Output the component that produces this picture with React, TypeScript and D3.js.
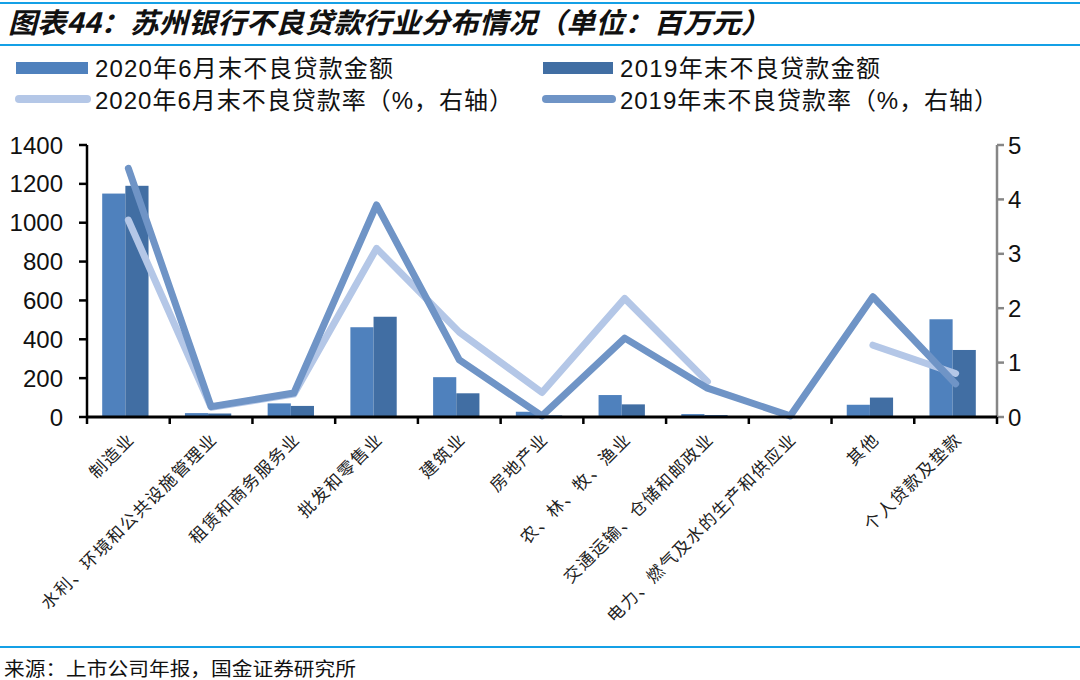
import React from "react";
import * as d3 from "d3";

const categories = [
  "制造业",
  "水利、环境和公共设施管理业",
  "租赁和商务服务业",
  "批发和零售业",
  "建筑业",
  "房地产业",
  "农、林、牧、渔业",
  "交通运输、仓储和邮政业",
  "电力、燃气及水的生产和供应业",
  "其他",
  "个人贷款及垫款",
];
const amount2020 = [1150, 20, 70, 462, 205, 27, 113, 15, 0, 63, 503];
const amount2019 = [1190, 18, 57, 516, 122, 8, 65, 10, 0, 100, 345];
const rate2020: (number | null)[] = [3.62, 0.18, 0.42, 3.1, 1.56, 0.45, 2.18, 0.65, null, 1.32, 0.8];
const rate2019: (number | null)[] = [4.57, 0.19, 0.44, 3.9, 1.05, 0.02, 1.45, 0.53, 0.02, 2.21, 0.61];
const leftTicks = [0, 200, 400, 600, 800, 1000, 1200, 1400];
const rightTicks = [0, 1, 2, 3, 4, 5];
const legendLabels = [
  "2020年6月末不良贷款金额",
  "2019年末不良贷款金额",
  "2020年6月末不良贷款率（%，右轴）",
  "2019年末不良贷款率（%，右轴）",
];
const titleText = "图表44：苏州银行不良贷款行业分布情况（单位：百万元）";
const sourceText = "来源：上市公司年报，国金证券研究所";

const C_BAR20 = "#4f81bd";
const C_BAR19 = "#416ea3";
const C_LINE20 = "#b4c7e7";
const C_LINE19 = "#6f94c6";
const C_RULE = "#14a0e6";
const FONT = "'Liberation Sans', Arial, 'Noto Sans CJK SC', sans-serif";
const CJK = "'Noto Sans CJK SC', sans-serif";

export default function App() {
  const W = 1080;
  const H = 680;
  const left = 87;
  const right = 997;
  const top = 145;
  const bottom = 417;

  const x = d3.scaleBand<string>().domain(categories).range([left, right]).paddingInner(0).paddingOuter(0);
  const step = x.step();
  const groupW = step * 0.56;
  const xs = d3.scaleBand<string>().domain(["a", "b"]).range([0, groupW]);
  const yL = d3.scaleLinear().domain([0, 1400]).range([bottom, top]);
  const yR = d3.scaleLinear().domain([0, 5]).range([bottom, top]);
  const cx = (c: string) => (x(c) as number) + step / 2;
  const gx = (c: string) => cx(c) - groupW / 2 - 3;

  const line = d3
    .line<number | null>()
    .defined((d) => d !== null)
    .x((_, i) => cx(categories[i]))
    .y((d) => yR(d as number));

  const legendText = (label: string, tx: number, ty: number, len: number) => (
    <text
      x={tx}
      y={ty}
      dominantBaseline="central"
      fontFamily={FONT}
      fontSize={24}
      fill="#111"
      textLength={len}
      lengthAdjust="spacing"
    >
      {label}
    </text>
  );

  return (
    <svg width={W} height={H} style={{ position: "absolute", left: 0, top: 0, background: "#fff" }}>
      <rect x={0} y={0} width={W} height={H} fill="#fff" />
      <line x1={0} x2={W} y1={3} y2={3} stroke={C_RULE} strokeWidth={2} />
      <text
        x={8}
        y={33}
        fontFamily={CJK}
        fontSize={28}
        fontWeight="bold"
        fontStyle="italic"
        textLength={762}
        lengthAdjust="spacingAndGlyphs"
        fill="#111"
      >
        {titleText}
      </text>
      <line x1={0} x2={W} y1={45} y2={45} stroke={C_RULE} strokeWidth={2} />

      {/* legend */}
      <rect x={16} y={62} width={72} height={12} fill={C_BAR20} />
      {legendText(legendLabels[0], 95, 68, 298)}
      <rect x={543} y={62} width={70} height={12} fill={C_BAR19} />
      {legendText(legendLabels[1], 620, 68, 260)}
      <line x1={19} x2={87} y1={99} y2={99} stroke={C_LINE20} strokeWidth={8} strokeLinecap="round" />
      {legendText(legendLabels[2], 95, 100, 418)}
      <line x1={546} x2={612} y1={99} y2={99} stroke={C_LINE19} strokeWidth={8} strokeLinecap="round" />
      {legendText(legendLabels[3], 620, 100, 378)}

      {/* bars */}
      {categories.map((c, i) => (
        <g key={c}>
          <rect
            x={gx(c) + (xs("a") as number)}
            y={yL(amount2020[i])}
            width={xs.bandwidth()}
            height={bottom - yL(amount2020[i])}
            fill={C_BAR20}
          />
          <rect
            x={gx(c) + (xs("b") as number)}
            y={yL(amount2019[i])}
            width={xs.bandwidth()}
            height={bottom - yL(amount2019[i])}
            fill={C_BAR19}
          />
        </g>
      ))}

      {/* lines */}
      <path d={line(rate2020) || ""} fill="none" stroke={C_LINE20} strokeWidth={7} strokeLinecap="round" strokeLinejoin="round" />
      <path d={line(rate2019) || ""} fill="none" stroke={C_LINE19} strokeWidth={7} strokeLinecap="round" strokeLinejoin="round" />

      {/* left axis */}
      <line x1={left} x2={left} y1={top} y2={bottom} stroke="#000" strokeWidth={2.5} />
      {leftTicks.map((t) => (
        <g key={t}>
          <line x1={left - 8} x2={left} y1={yL(t)} y2={yL(t)} stroke="#000" strokeWidth={2.5} />
          <text x={63} y={yL(t)} textAnchor="end" dominantBaseline="central" fontFamily={FONT} fontSize={24} fill="#111">
            {t}
          </text>
        </g>
      ))}

      {/* right axis */}
      <line x1={right} x2={right} y1={top} y2={bottom} stroke="#868686" strokeWidth={2.5} />
      {rightTicks.map((t) => (
        <g key={t}>
          <line x1={right} x2={right + 7} y1={yR(t)} y2={yR(t)} stroke="#868686" strokeWidth={2.5} />
          <text x={1008} y={yR(t)} dominantBaseline="central" fontFamily={FONT} fontSize={24} fill="#111">
            {t}
          </text>
        </g>
      ))}

      {/* x axis */}
      <line x1={left} x2={right} y1={bottom} y2={bottom} stroke="#000" strokeWidth={3} />
      {d3.range(categories.length + 1).map((i) => (
        <line key={i} x1={left + i * step} x2={left + i * step} y1={bottom} y2={bottom + 7} stroke="#000" strokeWidth={2.5} />
      ))}
      {categories.map((c) => (
        <text
          key={c}
          transform={`translate(${cx(c) + 2},${bottom + 18}) rotate(-45)`}
          textAnchor="end"
          dominantBaseline="central"
          fontFamily={CJK}
          fontSize={17}
          letterSpacing={1.5}
          fill="#222"
        >
          {c}
        </text>
      ))}

      {/* footer */}
      <line x1={0} x2={W} y1={647} y2={647} stroke={C_RULE} strokeWidth={2} />
      <text x={4} y={667} dominantBaseline="central" fontFamily={CJK} fontSize={19} fill="#111" textLength={352} lengthAdjust="spacingAndGlyphs">
        {sourceText}
      </text>
    </svg>
  );
}
